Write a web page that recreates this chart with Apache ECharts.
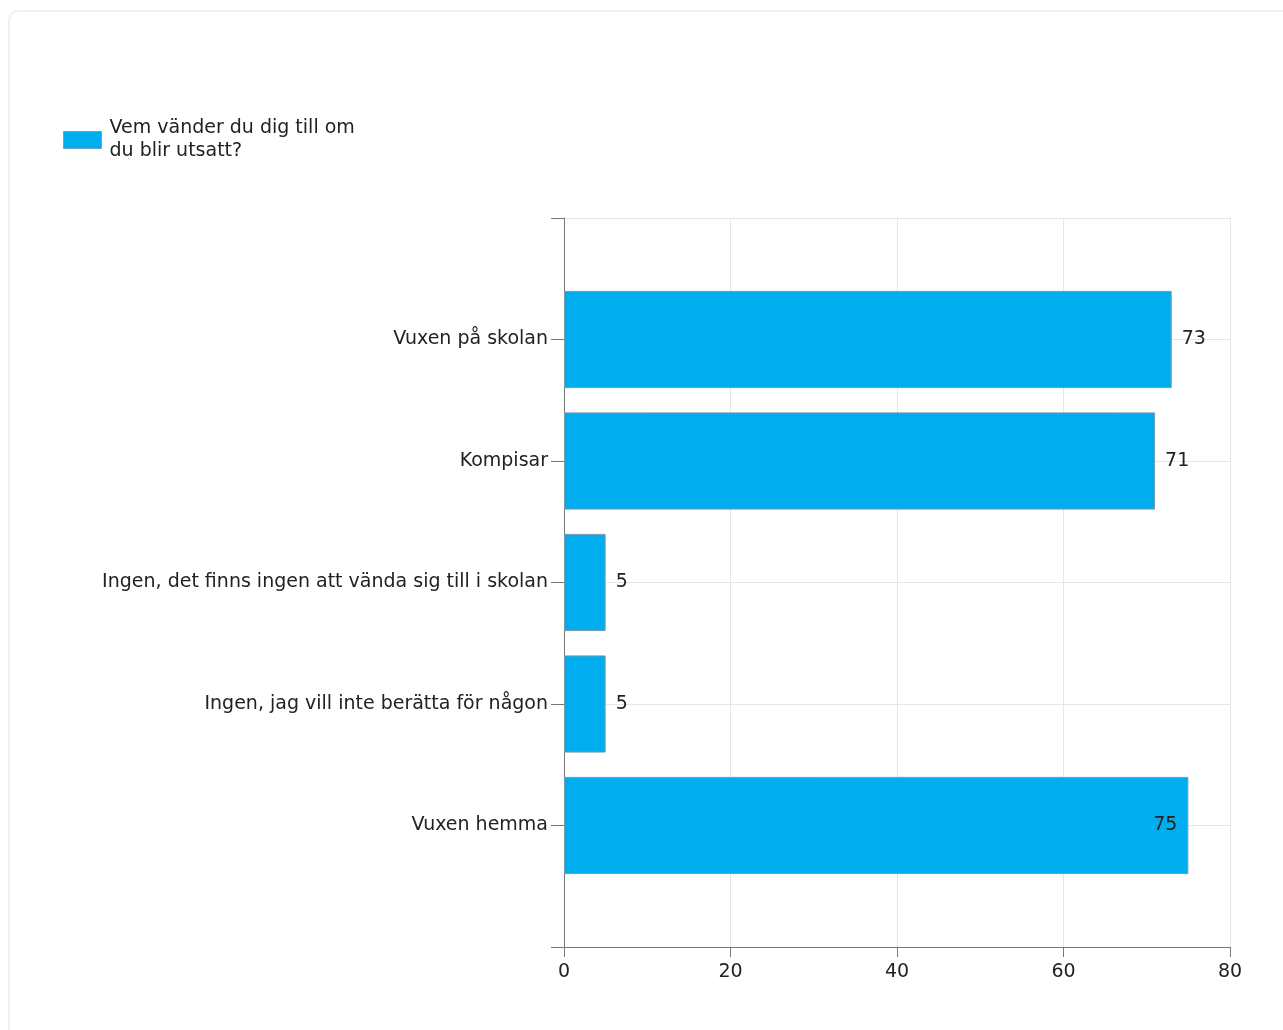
<!DOCTYPE html>
<html>
<head>
<meta charset="utf-8">
<script src="https://cdn.jsdelivr.net/npm/echarts@6/dist/echarts.min.js"></script>
<style>
  html, body { margin: 0; padding: 0; background: #fff; }
  #card { position: absolute; left: 8px; top: 10px; width: 1290px; height: 1040px; border: 2px solid #f0f0f0; border-radius: 10px; box-sizing: border-box; }
  #chart { position: absolute; left: 0; top: 0; width: 1283px; height: 1030px; }
</style>
</head>
<body>
<div id="card"></div>
<div id="chart"></div>
<script>
const seriesName = 'Vem vänder du dig till om\ndu blir utsatt?';
const categories = ['', 'Vuxen på skolan', 'Kompisar', 'Ingen, det finns ingen att vända sig till i skolan', 'Ingen, jag vill inte berätta för någon', 'Vuxen hemma', ''];
const values = [null, 73, 71, 5, 5, 75, null];
const insideLabelCategories = ['Vuxen hemma'];
const xTicks = { min: 0, max: 80, interval: 20 };

const FONT = 'DejaVu Sans';
const FS = 19;
const chart = echarts.init(document.getElementById('chart'));
const data = values.map((v, i) => {
  if (v === null) return null;
  const item = { value: v };
  if (insideLabelCategories.includes(categories[i])) {
    item.label = { position: 'insideRight', distance: 11 };
  }
  return item;
});
chart.setOption({
  animation: false,
  textStyle: { fontFamily: FONT },
  legend: {
    left: 58, top: 112,
    itemWidth: 38, itemHeight: 17, itemGap: 10,
    textStyle: { fontFamily: FONT, fontSize: FS, color: '#222', lineHeight: 23, padding: [0, 0, 0, 3] },
    data: [{ name: seriesName, icon: 'rect', itemStyle: { borderColor: '#6aa6c8', borderWidth: 1 } }]
  },
  grid: { left: 564, top: 218, right: 53, bottom: 83, containLabel: false },
  xAxis: {
    type: 'value', min: xTicks.min, max: xTicks.max, interval: xTicks.interval,
    axisLine: { show: true, lineStyle: { color: '#777', width: 1 } },
    axisTick: { show: true, length: 10, lineStyle: { color: '#777' } },
    axisLabel: { fontFamily: FONT, fontSize: FS, color: '#222', margin: 16 },
    splitLine: { show: true, lineStyle: { color: '#e6e6e6' } }
  },
  yAxis: {
    type: 'category', data: categories, inverse: true, boundaryGap: false,
    axisLine: { show: true, lineStyle: { color: '#777', width: 1 } },
    axisTick: { show: true, length: 13, lineStyle: { color: '#777' } },
    axisLabel: { fontFamily: FONT, fontSize: FS, color: '#222', margin: 16 },
    splitLine: { show: true, lineStyle: { color: '#e6e6e6' } }
  },
  series: [{
    name: seriesName,
    type: 'bar',
    data: data,
    barWidth: '80%',
    itemStyle: { color: '#00aeef', borderColor: '#7a9aac', borderWidth: 1 },
    label: { show: true, position: 'right', distance: 10, fontFamily: FONT, fontSize: FS, color: '#222' }
  }]
});
</script>
</body>
</html>
